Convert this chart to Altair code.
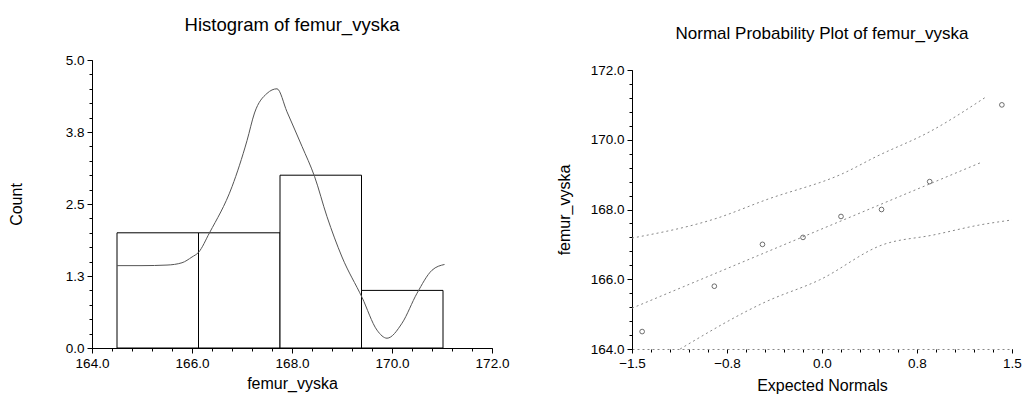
import altair as alt
import pandas as pd

# ---------------- data ----------------
bin_start = [164.5, 166.13, 167.76, 169.39]
bin_end = [166.13, 167.76, 169.39, 171.02]
bin_count = [2, 2, 3, 1]

curve_x = [164.5, 165.0, 165.5, 165.8, 166.0, 166.13, 166.35, 166.8, 167.1, 167.25,
           167.5, 167.7, 167.9, 168.2, 168.45, 168.7, 169.0, 169.4, 169.7, 169.9,
           170.2, 170.5, 170.8, 171.05]
curve_y = [1.43, 1.43, 1.44, 1.48, 1.58, 1.66, 2.0, 2.8, 3.6, 4.08,
           4.42, 4.5, 4.1, 3.5, 2.98, 2.28, 1.58, 0.88, 0.31, 0.17,
           0.43, 0.95, 1.35, 1.45]

exp_normals = [-1.42, -0.85, -0.47, -0.15, 0.15, 0.47, 0.85, 1.42]
femur_vyska = [164.5, 165.8, 167.0, 167.2, 167.8, 168.0, 168.8, 171.0]

fit_x = [-1.5, 1.25]
fit_y = [165.17, 169.34]
upper_x = [-1.5, -0.83, -0.44, 0.17, 0.43, 0.85, 1.3]
upper_y = [167.18, 167.75, 168.28, 169.04, 169.52, 170.23, 171.24]
lower_x = [-1.12, -0.44, -0.02, 0.48, 0.88, 1.25, 1.5]
lower_y = [164.0, 165.36, 165.98, 166.99, 167.27, 167.56, 167.7]

hist_x_major = [164, 166, 168, 170, 172]
hist_x_minor = [164 + 0.4 * i for i in range(21)]
hist_y_major = [0, 1.25, 2.5, 3.75, 5]
hist_y_minor = [0.25 * i for i in range(21)]

npp_x_major = [-1.5, -0.75, 0, 0.75, 1.5]
npp_x_minor = [-1.5 + 0.15 * i for i in range(21)]
npp_y_major = [164, 166, 168, 170, 172]
npp_y_minor = [164 + 0.4 * i for i in range(21)]

FONT = "Liberation Sans"

bins = pd.DataFrame({"start": bin_start, "end": bin_end, "count": bin_count})
curve = pd.DataFrame({"x": curve_x, "y": curve_y})
pts = pd.DataFrame({"x": exp_normals, "y": femur_vyska})
fit = pd.DataFrame({"x": fit_x, "y": fit_y})
upper = pd.DataFrame({"x": upper_x, "y": upper_y})
lower = pd.DataFrame({"x": lower_x, "y": lower_y})


def ax_major(orient, values, title, fmt, tick=5, title_pad=None, dash=None):
    kw = dict(orient=orient, values=values, format=fmt, title=title, tickSize=tick,
              tickColor="black", domainColor="black", labelColor="black", labelFont=FONT,
              labelFontSize=13.5, titleFont=FONT, titleFontSize=16, titleFontWeight="normal",
              titleColor="black", grid=False, labelPadding=3, labelFlush=False)
    if title_pad is not None:
        kw["titlePadding"] = title_pad
    if dash is not None:
        kw["domainDash"] = dash
        kw["domainColor"] = "#888"
    return alt.Axis(**kw)


def ax_minor(orient, values, tick=3):
    return alt.Axis(orient=orient, values=values, labels=False, title=None, tickSize=tick,
                    tickColor="black", domain=False, grid=False)


# ---------------- histogram ----------------
hx = alt.Scale(domain=[164, 172], nice=False)
hy = alt.Scale(domain=[0, 5], nice=False)

bars = alt.Chart(bins).mark_rect(fill="white", stroke="black", strokeWidth=1).encode(
    x=alt.X("start:Q", scale=hx,
            axis=ax_major("bottom", hist_x_major, "femur_vyska", ".1f", title_pad=6)),
    x2="end:Q",
    y=alt.Y("count:Q", scale=hy,
            axis=ax_major("left", hist_y_major, "Count", ".1f", title_pad=41)),
    y2=alt.datum(0),
)
minor_h = alt.Chart(bins).mark_point(opacity=0).encode(
    x=alt.X("start:Q", scale=hx, axis=ax_minor("bottom", hist_x_minor)),
    y=alt.Y("count:Q", scale=hy, axis=ax_minor("left", hist_y_minor)),
)
line_h = alt.Chart(curve).mark_line(color="#555", strokeWidth=1, interpolate="monotone").encode(
    x=alt.X("x:Q", scale=hx, axis=None),
    y=alt.Y("y:Q", scale=hy, axis=None),
)
left = alt.layer(minor_h, bars, line_h).resolve_axis(x="independent", y="independent").properties(
    width=400, height=288,
    title=alt.TitleParams("Histogram of femur_vyska", font=FONT, fontSize=18.5,
                          fontWeight="normal", color="black", offset=19),
)

# ---------------- normal probability plot ----------------
nx = alt.Scale(domain=[-1.5, 1.5], nice=False)
ny = alt.Scale(domain=[164, 172], nice=False, range=[289, 10])

pts_c = alt.Chart(pts).mark_point(shape="circle", size=22, filled=False, color="black",
                                  strokeWidth=0.8).encode(
    x=alt.X("x:Q", scale=nx, axis=ax_major("bottom", npp_x_major, "Expected Normals", ".1f",
                                             tick=4, title_pad=8, dash=[2, 3])),
    y=alt.Y("y:Q", scale=ny, axis=ax_major("left", npp_y_major, "femur_vyska", ".1f",
                                             title_pad=18)),
)
minor_n = alt.Chart(pts).mark_point(opacity=0).encode(
    x=alt.X("x:Q", scale=nx, axis=ax_minor("bottom", npp_x_minor)),
    y=alt.Y("y:Q", scale=ny, axis=ax_minor("left", npp_y_minor)),
)


def dline(df):
    return alt.Chart(df).mark_line(color="#888", strokeWidth=1, strokeDash=[2, 3],
                                   interpolate="monotone").encode(
        x=alt.X("x:Q", scale=nx, axis=None),
        y=alt.Y("y:Q", scale=ny, axis=None),
    )


right = alt.layer(minor_n, pts_c, dline(fit), dline(upper), dline(lower)).resolve_axis(
    x="independent", y="independent").properties(
    width=380, height=289,
    title=alt.TitleParams("Normal Probability Plot of femur_vyska", font=FONT, fontSize=17,
                          fontWeight="normal", color="black", offset=17),
)

chart = alt.hconcat(left, right, spacing=47).properties(
    padding={"left": 8, "top": 15, "right": 0, "bottom": 0},
    background="white",
).configure_view(stroke=None)

chart.save("out.html", embed_options={"renderer": "svg", "actions": False})
